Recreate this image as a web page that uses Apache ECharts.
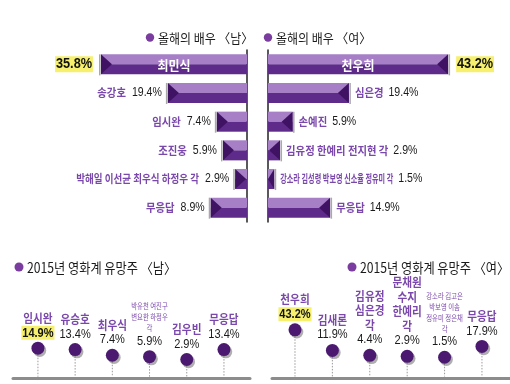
<!DOCTYPE html>
<html><head><meta charset="utf-8">
<script src="https://cdn.jsdelivr.net/npm/echarts@6/dist/echarts.min.js"></script>
<style>html,body{margin:0;padding:0;background:#fff}#c{width:510px;height:384px}</style>
</head><body><div id="c"></div>
<script>
// ---------- data ----------
const maleActorNames = ['최민식', '송강호', '임시완', '조진웅', '박해일 이선균 최우식 하정우 각', '무응답'];
const maleActorValues = [35.8, 19.4, 7.4, 5.9, 2.9, 8.9];
const femaleActorNames = ['천우희', '심은경', '손예진', '김유정 한예리 전지현 각', '강소라 김성령 박보영 신소율 정유미 각', '무응답'];
const femaleActorValues = [43.2, 19.4, 5.9, 2.9, 1.5, 14.9];
const maleRookieNames = ['임시완', '유승호', '최우식', '박유천 여진구\n변요한 하정우\n각', '김우빈', '무응답'];
const maleRookieValues = [14.9, 13.4, 7.4, 5.9, 2.9, 13.4];
const femaleRookieNames = ['천우희', '김새론', '김유정\n심은경\n각', '문채원\n수지\n한예리\n각', '강소라 김고은\n박보영 이솜\n정유미 정은채\n각', '무응답'];
const femaleRookieValues = [43.2, 11.9, 4.4, 2.9, 1.5, 17.9];
const titles = ['올해의 배우 〈남〉', '올해의 배우 〈여〉', '2015년 영화계 유망주 〈남〉', '2015년 영화계 유망주 〈여〉'];

// ---------- styles ----------
const CJK = '"Noto Sans CJK KR", "Noto Sans CJK SC", sans-serif';
const LAT = '"Liberation Sans", Arial, sans-serif';
const PURPLE_TXT = '#7a47ab';
const BAR_LIGHT = '#a67fc6', BAR_DARK = '#5e2b8b', BAR_TIP = '#3f1263';
const YELLOW = '#f6f06e';
const DOT = '#4b1a70';
const TITLE_DOT = '#7a3d9f';
const topNameScaleLeft = [0.9, 0.9, 0.9, 0.9, 0.83, 0.9];
const topNameScaleRight = [0.9, 0.9, 0.9, 0.9, 0.62, 0.9];

const mctx = document.createElement('canvas').getContext('2d');
function tw(text, font) { mctx.font = font; return mctx.measureText(text).width; }

function makeBarRender(side, names, values, nameScales) {
  const maxV = Math.max(...values);
  return function (params, api) {
    const i = params.dataIndex;
    const v = api.value(0), c = api.value(1);
    const p0 = api.coord([0, c]), p1 = api.coord([v, c]);
    const h = api.size([0, 1])[1] * 0.7;
    const cy = p0[1], top = cy - h / 2;
    const x0 = Math.min(p0[0], p1[0]), w = Math.abs(p1[0] - p0[0]);
    const ex = p1[0];
    const dir = side === 'left' ? 1 : -1;
    const tip = Math.min(11, w);
    const ch = [
      {type: 'rect', shape: {x: x0, y: top, width: w, height: h / 2}, style: {fill: BAR_LIGHT}},
      {type: 'rect', shape: {x: x0, y: cy, width: w, height: h / 2}, style: {fill: BAR_DARK}},
      {type: 'polygon', shape: {points: [[ex, top], [ex, top + h], [ex + dir * tip, cy]]}, style: {fill: BAR_TIP}},
      {type: 'line', shape: {x1: ex - dir * 1.2, y1: top, x2: ex - dir * 1.2, y2: top + h + 1}, style: {stroke: '#a9a9a9', lineWidth: 1.5}}
    ];
    const valTxt = values[i].toFixed(1) + '%';
    if (values[i] === maxV) {
      ch.push({type: 'text', x: (p0[0] + p1[0]) / 2, y: cy + 0.5, scaleX: 0.92,
        style: {text: names[i], fill: '#fff', font: 'bold 13px ' + CJK, align: 'center', verticalAlign: 'middle'}});
      ch.push({type: 'text', x: ex - dir * 8, y: cy, scaleX: 0.85,
        style: {text: valTxt, font: 'bold 15px ' + LAT, fill: '#111', align: side === 'left' ? 'right' : 'left',
          verticalAlign: 'middle', backgroundColor: YELLOW, padding: [1, 1, 0, 1]}});
    } else {
      const nf = 'bold 11.5px ' + CJK, vf = '12px ' + LAT;
      const ns = nameScales[i], vs = 0.88;
      if (side === 'left') {
        const vx = ex - 6;
        const vw = tw(valTxt, vf) * vs;
        ch.push({type: 'text', x: vx, y: cy, scaleX: vs, style: {text: valTxt, font: vf, fill: '#1a1a1a', align: 'right', verticalAlign: 'middle'}});
        ch.push({type: 'text', x: vx - vw - 6, y: cy, scaleX: ns, style: {text: names[i], font: nf, fill: PURPLE_TXT, align: 'right', verticalAlign: 'middle'}});
      } else {
        const nx = ex + 6;
        const nw = tw(names[i], nf) * ns;
        ch.push({type: 'text', x: nx, y: cy, scaleX: ns, style: {text: names[i], font: nf, fill: PURPLE_TXT, align: 'left', verticalAlign: 'middle'}});
        ch.push({type: 'text', x: nx + nw + 5, y: cy, scaleX: vs, style: {text: valTxt, font: vf, fill: '#1a1a1a', align: 'left', verticalAlign: 'middle'}});
      }
    }
    return {type: 'group', children: ch};
  };
}

const richStyles = {
  n: {fontFamily: CJK, fontSize: 12.5, fontWeight: 'bold', fill: PURPLE_TXT, lineHeight: 14.5},
  s: {fontFamily: CJK, fontSize: 7.5, fill: PURPLE_TXT, lineHeight: 11},
  v: {fontFamily: LAT, fontSize: 13, fill: '#1a1a1a', lineHeight: 15},
  h: {fontFamily: LAT, fontSize: 13, fontWeight: 'bold', fill: '#111', lineHeight: 15, backgroundColor: YELLOW, padding: [1, 1, 0, 1]}
};

function makeDotRender(names, values) {
  const maxV = Math.max(...values);
  return function (params, api) {
    const i = params.dataIndex;
    const p = api.coord([api.value(0), api.value(1)]);
    const cs = params.coordSys;
    const baseY = cs.y + cs.height;
    const r = 6.5;
    const lines = names[i].split('\n');
    const small = lines.some(l => l.indexOf(' ') >= 0);
    const parts = lines.map(l => '{' + (small ? 's' : 'n') + '|' + l + '}');
    parts.push('{' + (values[i] === maxV ? 'h' : 'v') + '|' + values[i].toFixed(1) + '%}');
    return {type: 'group', children: [
      {type: 'line', shape: {x1: p[0], y1: p[1] + r, x2: p[0], y2: baseY - 1.5}, style: {stroke: '#9a9a9a', lineWidth: 1, lineDash: [1.5, 1.5]}},
      {type: 'circle', shape: {cx: p[0] + 1.8, cy: p[1] + 2.2, r: r}, style: {fill: 'rgba(110,110,110,0.55)'}},
      {type: 'circle', shape: {cx: p[0], cy: p[1], r: r}, style: {fill: DOT}},
      {type: 'text', x: p[0], y: p[1] - r - 1.5, scaleX: 0.85,
        style: {text: parts.join('\n'), align: 'center', verticalAlign: 'bottom', rich: richStyles}}
    ]};
  };
}

const chart = echarts.init(document.getElementById('c'), null, {renderer: 'canvas'});
const baseAxis = (gi, min, max) => ({gridIndex: gi, type: 'value', min: min, max: max, position: 'bottom',
  axisLine: {show: true, onZero: false, lineStyle: {color: '#8c8c8c', width: 3}},
  axisTick: {show: false}, axisLabel: {show: false}, splitLine: {show: false}});

chart.setOption({
  animation: false,
  backgroundColor: '#fff',
  grid: [
    {left: 43, width: 204, top: 50, height: 172},
    {left: 268, width: 208.5, top: 50, height: 172},
    {left: 13, width: 237, top: 343.4, height: 34.8},
    {left: 272, width: 238, top: 325.3, height: 52.7}
  ],
  xAxis: [
    {gridIndex: 0, type: 'value', inverse: true, min: 0, max: 50, show: false},
    {gridIndex: 1, type: 'value', min: 0, max: 50, show: false},
    baseAxis(2, -0.67, 5.7),
    baseAxis(3, -0.615, 5.75)
  ],
  yAxis: [
    {gridIndex: 0, type: 'category', inverse: true, data: maleActorNames, position: 'right',
      axisLine: {show: true, onZero: false, lineStyle: {color: '#222', width: 1.5}}, axisTick: {show: false}, axisLabel: {show: false}},
    {gridIndex: 1, type: 'category', inverse: true, data: femaleActorNames, position: 'left',
      axisLine: {show: true, onZero: false, lineStyle: {color: '#222', width: 1.5}}, axisTick: {show: false}, axisLabel: {show: false}},
    {gridIndex: 2, type: 'value', min: -17, max: 20, show: false},
    {gridIndex: 3, type: 'value', min: -30, max: 50, show: false}
  ],
  series: [
    {type: 'custom', xAxisIndex: 0, yAxisIndex: 0, clip: false, encode: {x: 0, y: 1},
      data: maleActorValues.map((v, i) => [v, i]),
      renderItem: makeBarRender('left', maleActorNames, maleActorValues, topNameScaleLeft)},
    {type: 'custom', xAxisIndex: 1, yAxisIndex: 1, clip: false, encode: {x: 0, y: 1},
      data: femaleActorValues.map((v, i) => [v, i]),
      renderItem: makeBarRender('right', femaleActorNames, femaleActorValues, topNameScaleRight)},
    {type: 'custom', xAxisIndex: 2, yAxisIndex: 2, clip: false, encode: {x: 0, y: 1},
      data: maleRookieValues.map((v, i) => [i, v]),
      renderItem: makeDotRender(maleRookieNames, maleRookieValues)},
    {type: 'custom', xAxisIndex: 3, yAxisIndex: 3, clip: false, encode: {x: 0, y: 1},
      data: femaleRookieValues.map((v, i) => [i, v]),
      renderItem: makeDotRender(femaleRookieNames, femaleRookieValues)}
  ],
  graphic: [
    {type: 'circle', shape: {cx: 150, cy: 37.5, r: 4.2}, style: {fill: TITLE_DOT}},
    {type: 'text', x: 158, y: 38, scaleX: 0.92, style: {text: titles[0], font: '13px ' + CJK, fill: '#1a1a1a', verticalAlign: 'middle'}},
    {type: 'circle', shape: {cx: 268, cy: 37.5, r: 4.2}, style: {fill: TITLE_DOT}},
    {type: 'text', x: 276, y: 38, scaleX: 0.92, style: {text: titles[1], font: '13px ' + CJK, fill: '#1a1a1a', verticalAlign: 'middle'}},
    {type: 'circle', shape: {cx: 19, cy: 267, r: 4.5}, style: {fill: TITLE_DOT}},
    {type: 'text', x: 27, y: 267.5, scaleX: 0.87, style: {text: titles[2], font: '14px ' + CJK, fill: '#1a1a1a', verticalAlign: 'middle'}},
    {type: 'circle', shape: {cx: 352, cy: 267, r: 4.5}, style: {fill: TITLE_DOT}},
    {type: 'text', x: 360, y: 267.5, scaleX: 0.87, style: {text: titles[3], font: '14px ' + CJK, fill: '#1a1a1a', verticalAlign: 'middle'}}
  ]
});
</script>
</body></html>
